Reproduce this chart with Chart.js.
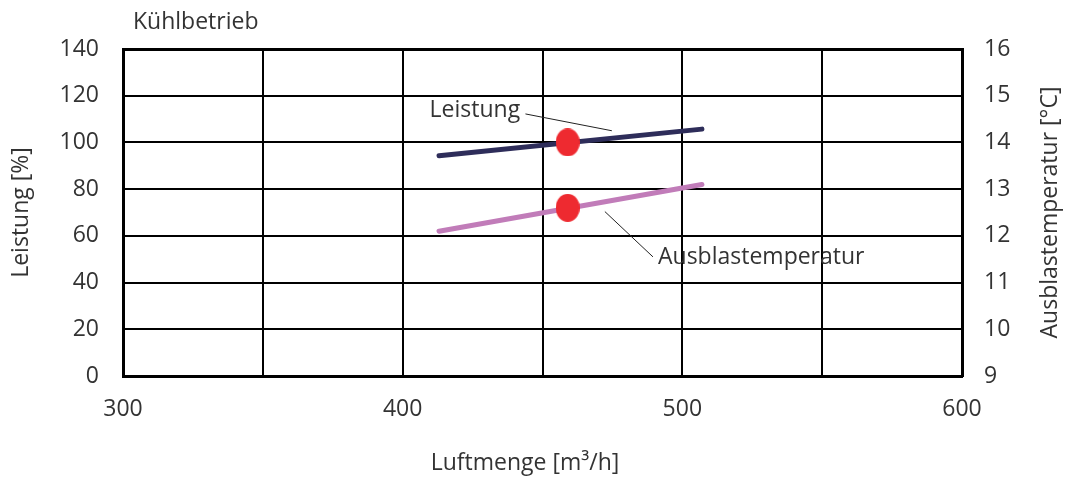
<!DOCTYPE html>
<html>
<head>
<meta charset="utf-8">
<script src="https://cdn.jsdelivr.net/npm/chart.js@4"></script>
<style>
  html, body { margin: 0; padding: 0; background: #fff; }
  #wrap { width: 1073px; height: 482px; }
</style>
</head>
<body>
<div id="wrap"><canvas id="chart"></canvas></div>
<script>
// values
const airflow = [413, 507];           // Luftmenge [m3/h], start/end of both curves
const leistung = [94.3, 105.7];        // Leistung [%]
const ausblas = [12.1, 13.1];          // Ausblastemperatur [°C]
const opAirflow = [459];               // operating point
const opLeistung = [100];
const opTemp = [12.6];

const xTicks = [300, 400, 500, 600];

// label anchors (data coords) for the callouts
const leistungLabel = { x: 442, y: 113.9, from: [443.9, 112.2], to: [474.8, 105.0] };
const ausblasLabel = { x: 491.3, y: 11.53, from: [472.3, 12.52], to: [489.5, 11.55] };

const textColor = '#333';
const fontFam = '"Open Sans", "DejaVu Sans", sans-serif';
const fontSize = 23;

// the red dots are slightly taller than wide
function makeDot() {
    const c = document.createElement('canvas');
    c.width = 24; c.height = 28;
    const g = c.getContext('2d');
    g.fillStyle = '#ee2a30';
    g.beginPath();
    g.ellipse(12, 14, 12, 14, 0, 0, Math.PI * 2);
    g.fill();
    return c;
}
const dot = makeDot();

const callouts = {
    id: 'callouts',
    afterDatasetsDraw(chart) {
        const ctx = chart.ctx;
        const x = chart.scales.x, y = chart.scales.y, y1 = chart.scales.y1;
        const area = chart.chartArea;
        ctx.save();
        ctx.font = fontSize + 'px ' + fontFam;
        ctx.fillStyle = textColor;
        ctx.strokeStyle = '#222';
        ctx.lineWidth = 1;

        // Leistung
        ctx.beginPath();
        ctx.moveTo(x.getPixelForValue(leistungLabel.from[0]), y.getPixelForValue(leistungLabel.from[1]));
        ctx.lineTo(x.getPixelForValue(leistungLabel.to[0]), y.getPixelForValue(leistungLabel.to[1]));
        ctx.stroke();
        ctx.textAlign = 'right';
        ctx.textBaseline = 'middle';
        ctx.fillText('Leistung', x.getPixelForValue(leistungLabel.x), y.getPixelForValue(leistungLabel.y));

        // Ausblastemperatur
        ctx.beginPath();
        ctx.moveTo(x.getPixelForValue(ausblasLabel.from[0]), y1.getPixelForValue(ausblasLabel.from[1]));
        ctx.lineTo(x.getPixelForValue(ausblasLabel.to[0]), y1.getPixelForValue(ausblasLabel.to[1]));
        ctx.stroke();
        ctx.textAlign = 'left';
        ctx.fillText('Ausblastemperatur', x.getPixelForValue(ausblasLabel.x), y1.getPixelForValue(ausblasLabel.y));

        // heading above the plot
        ctx.fillText('Kühlbetrieb', area.left + 10, 22);

        // x title sits a bit left of the plot centre in the original
        ctx.textAlign = 'center';
        ctx.fillText('Luftmenge [m³/h]', 525, 463);

        // right axis title reads bottom-to-top like the left one
        ctx.translate(1050, (area.top + area.bottom) / 2);
        ctx.rotate(-Math.PI / 2);
        ctx.fillText('Ausblastemperatur [°C]', 0, 0);
        ctx.restore();
    }
};

new Chart(document.getElementById('chart'), {
    type: 'line',
    data: {
        datasets: [
            {
                label: 'Leistung',
                data: airflow.map((v, i) => ({ x: v, y: leistung[i] })),
                yAxisID: 'y',
                borderColor: '#2e2d5a',
                borderWidth: 5,
                borderCapStyle: 'round',
                pointRadius: 0,
                order: 2
            },
            {
                label: 'Ausblastemperatur',
                data: airflow.map((v, i) => ({ x: v, y: ausblas[i] })),
                yAxisID: 'y1',
                borderColor: '#c17cb9',
                borderWidth: 5,
                borderCapStyle: 'round',
                pointRadius: 0,
                order: 2
            },
            {
                label: 'Betriebspunkt Leistung',
                data: opAirflow.map((v, i) => ({ x: v, y: opLeistung[i] })),
                yAxisID: 'y',
                showLine: false,
                pointStyle: dot,
                pointRadius: 13,
                order: 1
            },
            {
                label: 'Betriebspunkt Temperatur',
                data: opAirflow.map((v, i) => ({ x: v, y: opTemp[i] })),
                yAxisID: 'y1',
                showLine: false,
                pointStyle: dot,
                pointRadius: 13,
                order: 1
            }
        ]
    },
    options: {
        responsive: true,
        maintainAspectRatio: false,
        animation: false,
        layout: { padding: { top: 49, left: 0, right: 10, bottom: 6 } },
        plugins: {
            legend: { display: false },
            tooltip: { enabled: false }
        },
        scales: {
            x: {
                type: 'linear',
                min: 300,
                max: 600,
                afterBuildTicks: (scale) => {
                    scale.ticks = [300, 350, 400, 450, 500, 550, 600].map(v => ({ value: v }));
                },
                ticks: {
                    color: textColor,
                    font: { family: fontFam, size: fontSize },
                    padding: 20,
                    maxRotation: 0,
                    autoSkip: false,
                    callback: (v) => xTicks.includes(v) ? String(v) : ''
                },
                grid: { color: '#000', lineWidth: 2, drawTicks: false },
                border: { color: '#000', width: 3 },
                afterFit: (scale) => { scale.height = 100; }
            },
            y: {
                position: 'left',
                min: 0,
                max: 140,
                ticks: {
                    stepSize: 20,
                    color: textColor,
                    font: { family: fontFam, size: fontSize },
                    padding: 24
                },
                grid: {
                    color: '#000',
                    lineWidth: (c) => c.tick && c.tick.value === 140 ? 3 : 2,
                    drawTicks: false
                },
                border: { color: '#000', width: 3 },
                title: {
                    display: true,
                    text: 'Leistung [%]',
                    color: textColor,
                    font: { family: fontFam, size: fontSize },
                    padding: { top: 8, bottom: 0 }
                },
                afterFit: (scale) => { scale.width = 123; }
            },
            y1: {
                position: 'right',
                min: 9,
                max: 16,
                ticks: {
                    stepSize: 1,
                    color: textColor,
                    font: { family: fontFam, size: fontSize },
                    padding: 22
                },
                grid: { drawOnChartArea: false, drawTicks: false },
                border: { color: '#000', width: 3 },
                afterFit: (scale) => { scale.width = 101; }
            }
        }
    },
    plugins: [callouts]
});
</script>
</body>
</html>
